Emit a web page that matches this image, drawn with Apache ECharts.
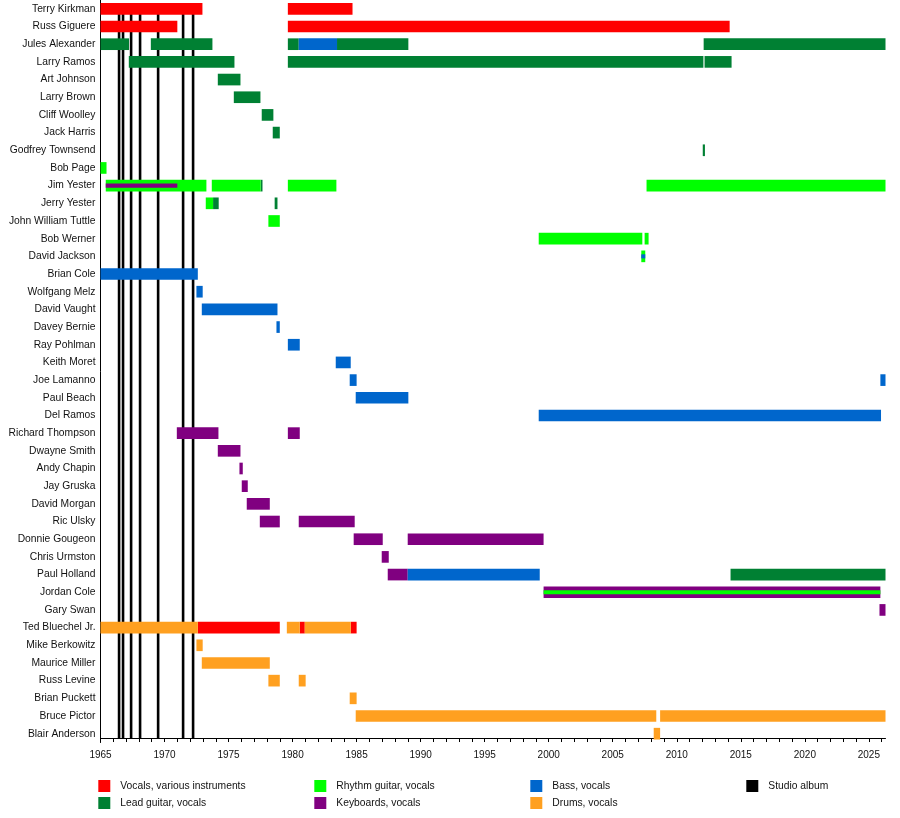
<!DOCTYPE html>
<html>
<head>
<meta charset="utf-8">
<script src="https://cdn.jsdelivr.net/npm/echarts@6/dist/echarts.min.js"></script>
<style>html,body{margin:0;padding:0;background:#fff}#c{width:900px;height:818px}</style>
</head>
<body>
<div id="c"></div>
<script>
const members = ['Terry Kirkman','Russ Giguere','Jules Alexander','Larry Ramos','Art Johnson','Larry Brown','Cliff Woolley','Jack Harris','Godfrey Townsend','Bob Page','Jim Yester','Jerry Yester','John William Tuttle','Bob Werner','David Jackson','Brian Cole','Wolfgang Melz','David Vaught','Davey Bernie','Ray Pohlman','Keith Moret','Joe Lamanno','Paul Beach','Del Ramos','Richard Thompson','Dwayne Smith','Andy Chapin','Jay Gruska','David Morgan','Ric Ulsky','Donnie Gougeon','Chris Urmston','Paul Holland','Jordan Cole','Gary Swan','Ted Bluechel Jr.','Mike Berkowitz','Maurice Miller','Russ Levine','Brian Puckett','Bruce Pictor','Blair Anderson'];

const roles = ['Vocals, various instruments','Lead guitar, vocals','Rhythm guitar, vocals','Keyboards, vocals','Bass, vocals','Drums, vocals'];

const vocals = [
 ['Terry Kirkman', 1965.0, 1972.96],
 ['Terry Kirkman', 1979.63, 1984.68],
 ['Russ Giguere', 1965.0, 1971.0],
 ['Russ Giguere', 1979.63, 2014.13],
 ['Ted Bluechel Jr.', 1972.6, 1979.0],
 ['Ted Bluechel Jr.', 1980.56, 1980.95],
 ['Ted Bluechel Jr.', 1984.54, 1985.0]
];
const leadGuitar = [
 ['Jules Alexander', 1965.0, 1967.23],
 ['Jules Alexander', 1968.93, 1973.74],
 ['Jules Alexander', 1979.63, 1980.48],
 ['Jules Alexander', 1983.47, 1989.04],
 ['Jules Alexander', 2012.1, 2026.3],
 ['Larry Ramos', 1967.21, 1975.46],
 ['Larry Ramos', 1979.63, 2012.08],
 ['Larry Ramos', 2012.17, 2014.28],
 ['Art Johnson', 1974.16, 1975.93],
 ['Larry Brown', 1975.41, 1977.49],
 ['Cliff Woolley', 1977.59, 1978.5],
 ['Jack Harris', 1978.45, 1979.0],
 ['Godfrey Townsend', 2012.03, 2012.2],
 ['Jim Yester', 1977.5, 1977.65],
 ['Jerry Yester', 1973.79, 1974.23],
 ['Jerry Yester', 1978.6, 1978.82],
 ['Paul Holland', 2014.2, 2026.3]
];
const rhythmGuitar = [
 ['Bob Page', 1965.0, 1965.47],
 ['Jim Yester', 1965.41, 1973.27],
 ['Jim Yester', 1973.69, 1977.5],
 ['Jim Yester', 1979.63, 1983.42],
 ['Jim Yester', 2007.64, 2026.3],
 ['Jerry Yester', 1973.22, 1973.79],
 ['John William Tuttle', 1978.11, 1979.0],
 ['Bob Werner', 1999.22, 2007.31],
 ['Bob Werner', 2007.49, 2007.8],
 ['David Jackson', 2007.23, 2007.54]
];
const keyboards = [
 ['Richard Thompson', 1970.96, 1974.21],
 ['Richard Thompson', 1979.63, 1980.56],
 ['Dwayne Smith', 1974.16, 1975.93],
 ['Andy Chapin', 1975.85, 1976.11],
 ['Jay Gruska', 1976.03, 1976.5],
 ['David Morgan', 1976.42, 1978.22],
 ['Ric Ulsky', 1977.44, 1979.0],
 ['Ric Ulsky', 1980.48, 1984.85],
 ['Donnie Gougeon', 1984.77, 1987.04],
 ['Donnie Gougeon', 1988.99, 1999.6],
 ['Chris Urmston', 1986.96, 1987.51],
 ['Paul Holland', 1987.43, 1988.99],
 ['Jordan Cole', 1999.6, 2025.9],
 ['Gary Swan', 2025.83, 2026.3]
];
const bass = [
 ['Jules Alexander', 1980.48, 1983.47],
 ['Brian Cole', 1965.0, 1972.6],
 ['Wolfgang Melz', 1972.49, 1972.98],
 ['David Vaught', 1972.91, 1978.82],
 ['Davey Bernie', 1978.74, 1979.0],
 ['Ray Pohlman', 1979.63, 1980.56],
 ['Keith Moret', 1983.37, 1984.54],
 ['Joe Lamanno', 1984.46, 1985.0],
 ['Joe Lamanno', 2025.9, 2026.3],
 ['Paul Beach', 1984.93, 1989.04],
 ['Del Ramos', 1999.22, 2025.95],
 ['Paul Holland', 1988.99, 1999.3]
];
const drums = [
 ['Ted Bluechel Jr.', 1965.0, 1972.6],
 ['Ted Bluechel Jr.', 1979.55, 1980.56],
 ['Ted Bluechel Jr.', 1980.95, 1984.54],
 ['Mike Berkowitz', 1972.49, 1972.98],
 ['Maurice Miller', 1972.91, 1978.22],
 ['Russ Levine', 1978.11, 1979.0],
 ['Russ Levine', 1980.48, 1981.02],
 ['Brian Puckett', 1984.46, 1985.0],
 ['Bruce Pictor', 1984.93, 2008.4],
 ['Bruce Pictor', 2008.7, 2026.3],
 ['Blair Anderson', 2008.2, 2008.7]
];
// secondary role stripes: [member, role, start, end]
const stripes = [
 ['Jim Yester', 'Keyboards, vocals', 1965.41, 1971.0],
 ['David Jackson', 'Bass, vocals', 2007.23, 2007.54],
 ['Jordan Cole', 'Rhythm guitar, vocals', 1999.6, 2025.9]
];
const studioAlbums = [1966.45, 1966.76, 1967.39, 1968.09, 1969.5, 1971.45, 1972.23];

const colors = {
 'Vocals, various instruments': '#ff0000',
 'Lead guitar, vocals': '#008033',
 'Rhythm guitar, vocals': '#00ff00',
 'Keyboards, vocals': '#800080',
 'Bass, vocals': '#0066cc',
 'Drums, vocals': '#ffa020',
 'Studio album': '#000000'
};
const roleData = {
 'Vocals, various instruments': vocals,
 'Lead guitar, vocals': leadGuitar,
 'Rhythm guitar, vocals': rhythmGuitar,
 'Keyboards, vocals': keyboards,
 'Bass, vocals': bass,
 'Drums, vocals': drums
};

const FONT = 'Liberation Sans, Arial, Helvetica, sans-serif';
const BAR_FRAC = 0.66, STRIPE_FRAC = 0.23;

function barRender(frac) {
  return function (params, api) {
    const row = api.value(0), s = api.value(1), e = api.value(2);
    const p0 = api.coord([s, row]);
    const p1 = api.coord([e, row]);
    const h = api.size([0, 1])[1] * frac;
    return {
      type: 'rect',
      shape: { x: p0[0], y: p0[1] - h / 2, width: Math.max(p1[0] - p0[0], 1), height: h },
      style: { fill: api.visual('color') }
    };
  };
}

const series = roles.map(r => ({
  name: r,
  type: 'custom',
  z: 3,
  itemStyle: { color: colors[r] },
  renderItem: barRender(BAR_FRAC),
  encode: { x: [1, 2], y: 0 },
  data: roleData[r].map(d => [members.indexOf(d[0]), d[1], d[2]])
}));

series.push({
  name: 'Role stripes',
  type: 'custom',
  z: 4,
  renderItem: function (params, api) {
    const row = api.value(0), s = api.value(1), e = api.value(2);
    const p0 = api.coord([s, row]);
    const p1 = api.coord([e, row]);
    const h = api.size([0, 1])[1] * STRIPE_FRAC;
    return {
      type: 'rect',
      shape: { x: p0[0], y: p0[1] - h / 2, width: Math.max(p1[0] - p0[0], 1), height: h },
      style: { fill: colors[stripes[params.dataIndex][1]] }
    };
  },
  encode: { x: [1, 2], y: 0 },
  data: stripes.map(d => [members.indexOf(d[0]), d[2], d[3]])
});

series.push({
  name: 'Studio album',
  type: 'custom',
  z: 1,
  itemStyle: { color: colors['Studio album'] },
  renderItem: function (params, api) {
    const x = api.coord([api.value(0), 0])[0];
    const band = api.size([0, 1])[1];
    const bottom = api.coord([api.value(0), members.length - 1])[1] + band * 0.25;
    const top = api.coord([api.value(0), 0])[1];
    return {
      type: 'rect',
      shape: { x: x - 1.3, y: top, width: 2.6, height: bottom - top },
      style: { fill: '#000' }
    };
  },
  encode: { x: 0 },
  data: studioAlbums.map(v => [v, 0])
});

function legendAt(left, names) {
  return {
    left: left, top: 780, orient: 'vertical', padding: 0,
    itemWidth: 12, itemHeight: 12, itemGap: 5, icon: 'rect',
    selectedMode: false,
    textStyle: { fontFamily: FONT, fontSize: 10.3, color: '#111', padding: [0, 0, 0, 5] },
    data: names
  };
}

const chart = echarts.init(document.getElementById('c'), null, { renderer: 'canvas' });
chart.setOption({
  animation: false,
  backgroundColor: '#fff',
  grid: { left: 100.5, width: 785, top: -2.975, height: 745.5, containLabel: false },
  xAxis: {
    type: 'value', min: 1965, max: 2026.3, interval: 1, offset: -4.5,
    axisLine: { show: true, lineStyle: { color: '#000', width: 1 } },
    axisTick: { show: true, length: 4, lineStyle: { color: '#000' } },
    splitLine: { show: false },
    axisLabel: {
      fontFamily: FONT, fontSize: 10, color: '#111', margin: 12,
      showMaxLabel: false,
      formatter: v => (Math.round(v) === v && v % 5 === 0) ? String(v) : ''
    }
  },
  yAxis: {
    type: 'category', inverse: true, data: members,
    axisLine: { show: true, lineStyle: { color: '#000', width: 1 } },
    axisTick: { show: false },
    splitLine: { show: false },
    axisLabel: { fontFamily: FONT, fontSize: 10.3, color: '#111', margin: 5, interval: 0 }
  },
  legend: [
    legendAt(98.3, ['Vocals, various instruments', 'Lead guitar, vocals']),
    legendAt(314.3, ['Rhythm guitar, vocals', 'Keyboards, vocals']),
    legendAt(530.3, ['Bass, vocals', 'Drums, vocals']),
    legendAt(746.3, ['Studio album'])
  ],
  series: series
});
</script>
</body>
</html>
